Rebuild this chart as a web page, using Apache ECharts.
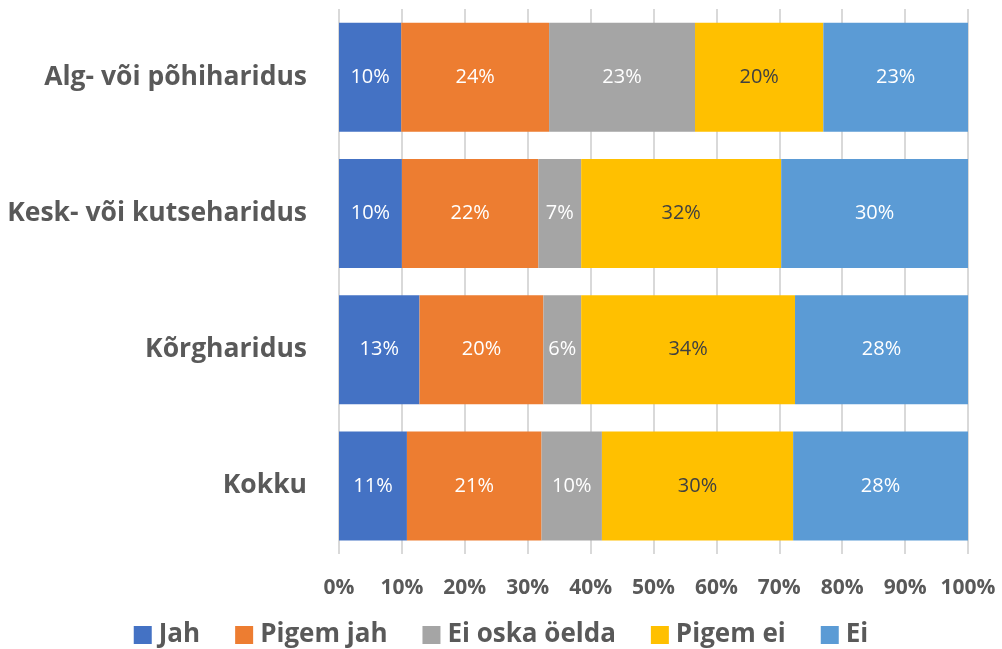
<!DOCTYPE html>
<html>
<head>
<meta charset="utf-8">
<script src="https://cdn.jsdelivr.net/npm/echarts@6/dist/echarts.min.js"></script>
<style>
html,body{margin:0;padding:0;background:#fff;}
#chart{width:1002px;height:649px;}
</style>
</head>
<body>
<div id="chart"></div>
<script>
const categories = ['Alg- või põhiharidus', 'Kesk- või kutseharidus', 'Kõrgharidus', 'Kokku'];
const seriesNames = ['Jah', 'Pigem jah', 'Ei oska öelda', 'Pigem ei', 'Ei'];
const jah      = [9.9, 10.0, 12.8, 10.8];
const pigemJah = [23.5, 21.7, 19.7, 21.4];
const eiOska   = [23.2, 6.8, 6.0, 9.6];
const pigemEi  = [20.4, 31.8, 34.0, 30.4];
const ei       = [23.0, 29.7, 27.5, 27.8];
const xTicks = [0, 10, 20, 30, 40, 50, 60, 70, 80, 90, 100];

const colors = ['#4472C4', '#ED7D31', '#A5A5A5', '#FFC000', '#5B9BD5'];
const labelColors = ['#FFFFFF', '#FFFFFF', '#FFFFFF', '#404040', '#FFFFFF'];
const dataSets = [jah, pigemJah, eiOska, pigemEi, ei];
const FONT = 'Open Sans';

const chart = echarts.init(document.getElementById('chart'), null, {renderer: 'canvas'});
chart.setOption({
  animation: false,
  backgroundColor: '#fff',
  textStyle: {fontFamily: FONT},
  grid: {left: 339, right: 34, top: 9, bottom: 95, containLabel: false},
  legend: {
    top: 617,
    left: 'center',
    itemWidth: 18,
    itemHeight: 18,
    itemGap: 35,
    icon: 'rect',
    textStyle: {fontFamily: FONT, fontSize: 26, fontWeight: 'bold', color: '#595959', padding: [0, 0, 0, 2]},
    data: seriesNames
  },
  xAxis: {
    type: 'value',
    min: 0,
    max: 100,
    interval: 10,
    axisLine: {show: false},
    axisTick: {show: false},
    splitLine: {show: true, lineStyle: {color: '#D9D9D9', width: 2}},
    axisLabel: {
      fontFamily: FONT, fontSize: 21, fontWeight: 'bold', color: '#595959', margin: 24,
      formatter: v => xTicks.includes(v) ? v + '%' : ''
    }
  },
  yAxis: {
    type: 'category',
    inverse: true,
    data: categories,
    axisLine: {show: false},
    axisTick: {show: false},
    axisLabel: {fontFamily: FONT, fontSize: 26.5, fontWeight: 'bold', color: '#595959', margin: 32}
  },
  series: seriesNames.map((name, i) => ({
    name: name,
    type: 'bar',
    stack: 'total',
    barCategoryGap: '20%',
    itemStyle: {color: colors[i]},
    label: {
      show: true,
      position: 'inside',
      fontFamily: FONT,
      fontSize: 20,
      color: labelColors[i],
      formatter: p => Math.round(p.value) + '%'
    },
    data: dataSets[i]
  }))
});
</script>
</body>
</html>
